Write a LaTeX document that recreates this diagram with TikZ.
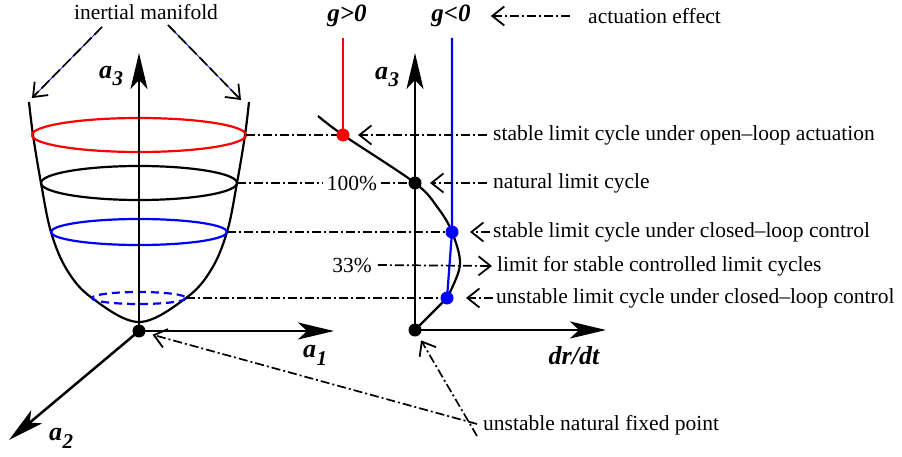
\documentclass[tikz,border=0pt]{standalone}
\usepackage{fontspec}
\setmainfont{Liberation Serif}
\usetikzlibrary{arrows.meta}
\newcommand\avar[1]{a\kern0.5pt\raisebox{-0.3em}{\fontsize{21}{21}\selectfont #1}}
\begin{document}
\begin{tikzpicture}[x=1pt,y=-1pt,
  axis/.style={line width=2.5pt,-{Stealth[length=36pt,width=17pt,inset=9pt]}},
  curve/.style={line width=2.2pt},
  dd/.style={line width=1.7pt,dash pattern=on 9pt off 3pt on 2pt off 3pt},
  barb/.style={-{Straight Barb[length=12pt,width=19pt,line width=1.8pt]}},
  lbl/.style={font=\fontsize{21.5}{24}\selectfont,inner sep=0pt},
  blbl/.style={font=\fontsize{26}{28}\selectfont\bfseries\itshape,inner sep=0pt},
  glbl/.style={font=\fontsize{25}{27}\selectfont\bfseries\itshape,inner sep=0pt},
  dotnode/.style={circle,fill,inner sep=0pt,minimum size=13pt}]
\useasboundingbox (0,0) rectangle (902,457);

% ---------- left: inertial manifold ----------
\coordinate (O) at (139,331);
\draw[curve] plot[smooth,tension=0.6] coordinates {(29,102) (33,135) (41,183) (51,232) (67,270) (92,298) (139,322) (186,298) (211,270) (227,232) (237,183) (245,135) (249,102)};
\draw[curve,red] (139,135) ellipse [x radius=107,y radius=17];
\draw[curve] (139,183) ellipse [x radius=98,y radius=17];
\draw[curve,blue] (139,232) ellipse [x radius=88,y radius=13];
\draw[curve,blue,dash pattern=on 8pt off 5pt] (139,298) ellipse [x radius=47,y radius=6];
\coordinate (eR) at (246,135);
\coordinate (eK) at (237,183);
\coordinate (eB) at (227,232);
\coordinate (eD) at (186,298);
\coordinate (a3L) at (139,53);
\coordinate (a1) at (334,331);
\coordinate (a2) at (9,440);
\draw[axis] (O) -- (a3L);
\draw[axis] (O) -- (a1);
\draw[axis] (O) -- (a2);
\node[dotnode] (OL) at (O) {};
\node[blbl] (la3L) at (111,76) {\avar{3}};
\node[blbl] (la1) at (315,355) {\avar{1}};
\node[blbl] (la2) at (61,438) {\avar{2}};

% inertial manifold label
\node[lbl] (im) at (146,12) {inertial manifold};
\coordinate (imL) at (102,27);
\coordinate (imR) at (168,25);
\coordinate (imLt) at (32,98);
\coordinate (imRt) at (241,100);
\draw[blue,line width=0.8pt] (imL) -- (imLt);
\draw[blue,line width=0.8pt] (imR) -- (imRt);
\draw[line width=1.7pt,dash pattern=on 11pt off 4pt,barb] (imL) -- (imLt);
\draw[line width=1.7pt,dash pattern=on 11pt off 4pt,barb] (imR) -- (imRt);

% ---------- right: bifurcation diagram ----------
\coordinate (O2) at (415,330);
\coordinate (a3R) at (415,53);
\coordinate (drdt) at (606,330);
\coordinate (pR) at (343,135);
\coordinate (pK) at (415,183);
\coordinate (pB) at (452,232);
\coordinate (pD) at (447,298);
\coordinate (gRtop) at (343,38);
\coordinate (gBtop) at (452,38);
\draw[axis] (O2) -- (a3R);
\draw[axis] (O2) -- (drdt);
\draw[curve] plot[smooth,tension=0.55] coordinates {(318,116) (pR) (pK) (438,208) (pB) (460,265) (pD)} -- (O2);
\draw[curve,red] (gRtop) -- (pR);
\draw[curve,blue] (gBtop) -- (pB) -- (pD);
\node[blbl] (la3R) at (387,77) {\avar{3}};
\node[blbl] (ldr) at (574,356) {dr/dt};
\node[glbl] (gpos) at (347,16) {g>0};
\node[glbl] (gneg) at (451,16) {g<0};

% dash-dot level lines
\node[lbl] (p100) at (352,183) {100\%};
\node[lbl] (p33) at (352,265) {33\%};
\draw[dd] (eR) -- (pR);
\draw[dd] (eK) -- ([xshift=-4pt]p100.west);
\draw[dd] ([xshift=4pt]p100.east) -- (pK);
\draw[dd] (eB) -- (pB);
\draw[dd] (eD) -- (pD);

\node[dotnode,red] (dR) at (pR) {};
\node[dotnode] (dK) at (pK) {};
\node[dotnode,blue] (dB) at (pB) {};
\node[dotnode,blue] (dD) at (pD) {};
\node[dotnode] (OR) at (O2) {};

% labels on the right
\node[lbl,anchor=west] (act) at (588,16) {actuation effect};
\node[lbl,anchor=west] (sol) at (493,135) {stable limit cycle under open--loop actuation};
\node[lbl,anchor=west] (nat) at (493,183) {natural limit cycle};
\node[lbl,anchor=west] (scl) at (493,232) {stable limit cycle under closed--loop control};
\node[lbl,anchor=west] (lim) at (497,266) {limit for stable controlled limit cycles};
\node[lbl,anchor=west] (ucl) at (496,298) {unstable limit cycle under closed--loop control};
\node[lbl,anchor=west] (ufp) at (483,425) {unstable natural fixed point};

\draw[dd,barb] ([xshift=-18pt]act.west) -- ([xshift=20pt]gneg.east);
\draw[dd,barb,shorten >=15pt] ([xshift=-6pt]sol.west) -- (pR);
\draw[dd,barb,shorten >=15pt] ([xshift=-6pt]nat.west) -- (pK);
\draw[dd,barb,shorten >=18pt] ([xshift=-3pt]scl.west) -- (pB);
\draw[dd,barb] ([xshift=6pt]p33.east) -- ([xshift=-5pt]lim.west);
\draw[dd,barb,shorten >=19pt] ([xshift=-3pt]ucl.west) -- (pD);
\draw[dd,barb,shorten >=14pt] ([xshift=-6pt,yshift=1pt]ufp.west) -- (O);
\draw[dd,barb,shorten >=12pt] ([xshift=-6pt,yshift=-11pt]ufp.west) -- (O2);
\end{tikzpicture}
\end{document}
